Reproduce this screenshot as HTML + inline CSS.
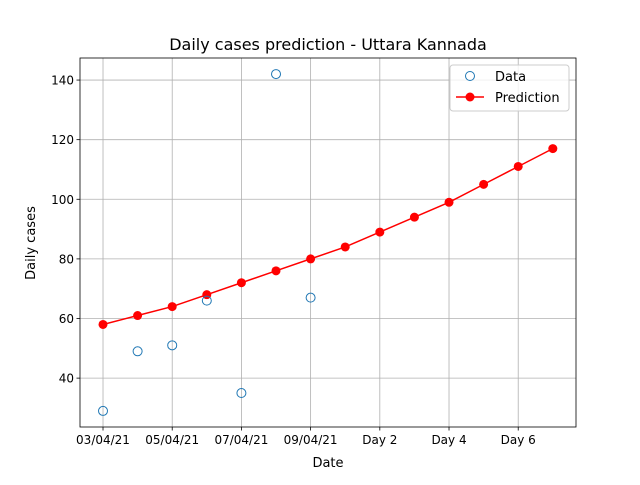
<!DOCTYPE html>
<html><head><meta charset="utf-8"><style>
body{margin:0;background:#fff;}
svg text{font-family:"DejaVu Sans","Liberation Sans",sans-serif;}
</style></head><body>
<svg id="chart" width="640" height="480" xmlns="http://www.w3.org/2000/svg">
<rect width="640" height="480" fill="#fff"/>
<g id="grid"></g>
<g id="axes"></g>
<g id="series"></g>
<text x="328" y="50" text-anchor="middle" font-size="16">Daily cases prediction - Uttara Kannada</text>
<text x="328" y="467" text-anchor="middle" font-size="13">Date</text>
<text x="35" y="243" text-anchor="middle" font-size="13" transform="rotate(-90 35 243)">Daily cases</text>
<g>
<rect x="450" y="65" width="119" height="46" rx="3" fill="#fff" fill-opacity="0.8" stroke="#ccc"/>
<circle cx="470" cy="76" r="4.5" fill="none" stroke="#1f77b4"/>
<text x="495" y="81" font-size="13">Data</text>
<line x1="456" y1="97" x2="484" y2="97" stroke="red" stroke-width="1.5"/>
<circle cx="470" cy="97" r="4.5" fill="red"/>
<text x="495" y="102" font-size="13">Prediction</text>
</g>
</svg>
<script>
const dataValues=[29,49,51,66,35,142,67];
const predictionValues=[58,61,64,68,72,76,80,84,89,94,99,105,111,117];
const xTickIdx=[0,2,4,6,8,10,12];
const xTickLabels=["03/04/21","05/04/21","07/04/21","09/04/21","Day 2","Day 4","Day 6"];
const yTicks=[40,60,80,100,120,140];
const L=80,R=576,T=58,B=427;
const xMin=-0.665,xMax=13.67,yMin=23.6,yMax=147.4;
const sx=i=>L+(i-xMin)/(xMax-xMin)*(R-L);
const sy=v=>B-(v-yMin)/(yMax-yMin)*(B-T);
const NS="http://www.w3.org/2000/svg";
function mk(tag,attrs,parent){const e=document.createElementNS(NS,tag);for(const k in attrs)e.setAttribute(k,attrs[k]);parent.appendChild(e);return e;}
const grid=document.getElementById('grid'),axes=document.getElementById('axes'),ser=document.getElementById('series');
xTickIdx.forEach((t,k)=>{const x=sx(t);
mk('line',{x1:x,y1:T,x2:x,y2:B,stroke:'#b0b0b0','stroke-width':0.8},grid);
mk('line',{x1:x,y1:B,x2:x,y2:B+3.5,stroke:'#000','stroke-width':0.8},axes);
const tx=mk('text',{x:x,y:B+17,'text-anchor':'middle','font-size':12},axes);tx.textContent=xTickLabels[k];

});
yTicks.forEach(v=>{const y=sy(v);
mk('line',{x1:L,y1:y,x2:R,y2:y,stroke:'#b0b0b0','stroke-width':0.8},grid);
mk('line',{x1:L-3.5,y1:y,x2:L,y2:y,stroke:'#000','stroke-width':0.8},axes);
const tx=mk('text',{x:L-6,y:y+4.5,'text-anchor':'end','font-size':12},axes);tx.textContent=v;

});
const fr=mk('rect',{x:L,y:T,width:R-L,height:B-T,fill:'none',stroke:'#000','stroke-width':0.8},axes);


const pl=mk('polyline',{points:predictionValues.map((v,i)=>sx(i)+','+sy(v)).join(' '),fill:'none',stroke:'red','stroke-width':1.5},ser);


predictionValues.forEach((v,i)=>{const c=mk('circle',{cx:sx(i),cy:sy(v),r:4.5,fill:'red'},ser);

});
dataValues.forEach((v,i)=>{const c=mk('circle',{cx:sx(i),cy:sy(v),r:4.5,fill:'none',stroke:'#1f77b4'},ser);

});
</script>
</body></html>
